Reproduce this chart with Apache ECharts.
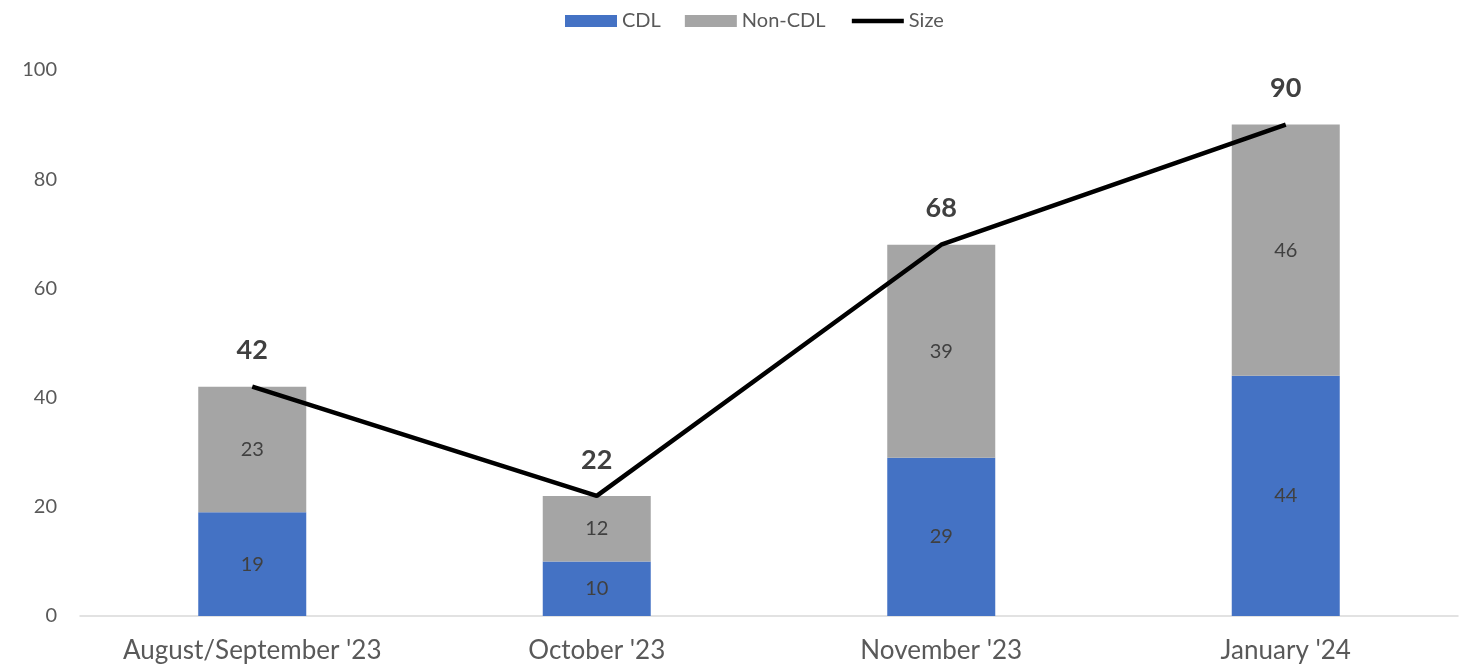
<!DOCTYPE html>
<html>
<head>
<meta charset="utf-8">
<script src="https://cdn.jsdelivr.net/npm/echarts@6/dist/echarts.min.js"></script>
<style>
  html, body { margin: 0; padding: 0; background: #fff; }
  #chart { width: 1471px; height: 669px; }
</style>
</head>
<body>
<div id="chart"></div>
<script>
const categories = ["August/September '23", "October '23", "November '23", "January '24"];
const cdlValues = [19, 10, 29, 44];
const nonCdlValues = [23, 12, 39, 46];
const sizeValues = [42, 22, 68, 90];
const yTicks = { min: 0, max: 100, interval: 20 };

const font = 'Lato, "Open Sans", sans-serif';
const chart = echarts.init(document.getElementById('chart'));

const option = {
  animation: false,
  textStyle: { fontFamily: font },
  legend: {
    top: 6,
    left: 560,
    itemWidth: 52,
    itemHeight: 12,
    itemGap: 24,
    textStyle: { fontFamily: font, fontSize: 20, color: '#595959' },
    data: [
      { name: 'CDL', icon: 'rect' },
      { name: 'Non-CDL', icon: 'rect' },
      { name: 'Size', lineStyle: { width: 4.5, color: '#000' } }
    ]
  },
  grid: { left: 80, right: 13, top: 70, bottom: 53 },
  xAxis: {
    type: 'category',
    data: categories,
    axisLine: { lineStyle: { color: '#d9d9d9', width: 1.5 } },
    axisTick: { show: false },
    axisLabel: { color: '#595959', fontSize: 26, margin: 22, fontFamily: font }
  },
  yAxis: {
    type: 'value',
    min: yTicks.min,
    max: yTicks.max,
    interval: yTicks.interval,
    axisLine: { show: false },
    axisTick: { show: false },
    splitLine: { show: false },
    axisLabel: { color: '#595959', fontSize: 20, margin: 23, fontFamily: font }
  },
  series: [
    {
      name: 'CDL',
      type: 'bar',
      stack: 'total',
      barWidth: 108,
      data: cdlValues,
      itemStyle: { color: '#4472c4' },
      label: { show: true, position: 'inside', color: '#404040', fontSize: 20, fontFamily: font }
    },
    {
      name: 'Non-CDL',
      type: 'bar',
      stack: 'total',
      barWidth: 108,
      data: nonCdlValues,
      itemStyle: { color: '#a5a5a5' },
      label: { show: true, position: 'inside', color: '#404040', fontSize: 20, fontFamily: font }
    },
    {
      name: 'Size',
      type: 'line',
      data: sizeValues,
      symbol: 'circle',
      symbolSize: 1,
      showSymbol: true,
      z: 5,
      lineStyle: { color: '#000', width: 4.5 },
      itemStyle: { color: 'rgba(0,0,0,0)' },
      label: {
        show: true,
        position: 'top',
        distance: 22,
        color: '#404040',
        fontSize: 27,
        fontWeight: 'bold',
        fontFamily: font
      }
    }
  ]
};

chart.setOption(option);
</script>
</body>
</html>
